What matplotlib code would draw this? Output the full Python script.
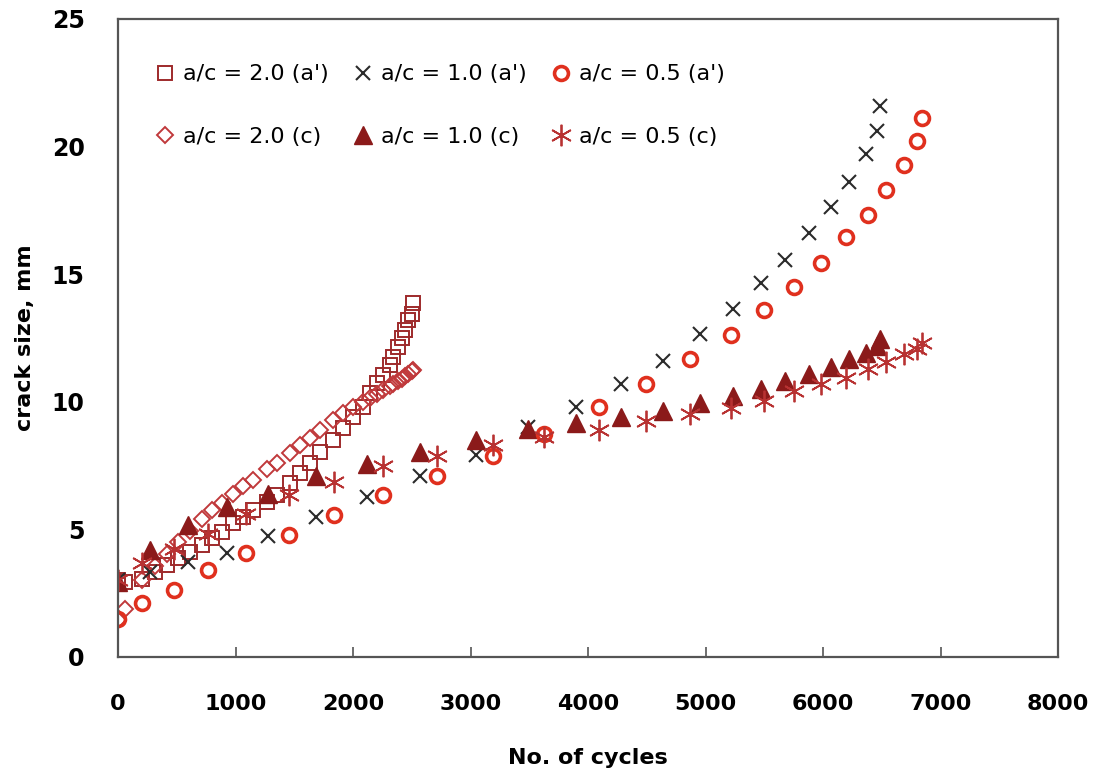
import matplotlib
matplotlib.use("Agg")
import matplotlib.pyplot as plt

# a/c = 2.0 : a' (squares) and c (diamonds) share the cycle counts
cyc_20 = [0, 60, 202, 315, 414, 513, 613, 712, 797, 882, 981, 1066, 1151, 1265,
          1350, 1464, 1549, 1634, 1719, 1832, 1917, 2002, 2087, 2145, 2201, 2258,
          2315, 2343, 2385, 2414, 2443, 2471, 2500, 2513]
a_20 = [3.0, 2.95, 3.05, 3.34, 3.61, 3.87, 4.13, 4.39, 4.65, 4.91, 5.24, 5.5, 5.76, 6.09,
        6.35, 6.81, 7.2, 7.59, 8.05, 8.5, 8.96, 9.42, 9.81, 10.33, 10.72, 11.05,
        11.44, 11.76, 12.16, 12.49, 12.81, 13.2, 13.46, 13.86]
c_20 = [1.45, 1.9, 3.0, 3.55, 4.05, 4.5, 4.95, 5.4, 5.75, 6.05, 6.4, 6.7, 6.95, 7.35,
        7.6, 8.0, 8.3, 8.6, 8.9, 9.3, 9.55, 9.8, 10.0, 10.15, 10.3, 10.45,
        10.6, 10.7, 10.8, 10.9, 11.0, 11.1, 11.2, 11.25]

# a/c = 1.0
cyc_10 = [0, 272, 598, 925, 1276, 1685, 2122, 2566, 3050, 3492, 3897, 4280, 4636, 4950,
          5237, 5475, 5680, 5880, 6064, 6222, 6362, 6458, 6489]
a_10 = [3.0, 3.34, 3.73, 4.08, 4.73, 5.48, 6.28, 7.08, 7.93, 9.0, 9.78, 10.69, 11.6, 12.64,
        13.62, 14.66, 15.57, 16.61, 17.62, 18.63, 19.7, 20.6, 21.6]
c_10 = [2.94, 4.21, 5.16, 5.87, 6.39, 7.11, 7.57, 8.05, 8.5, 8.93, 9.15, 9.39, 9.65, 9.94,
        10.23, 10.49, 10.82, 11.08, 11.37, 11.67, 11.93, 12.19, 12.45]

# a/c = 0.5
cyc_05 = [0, 206, 473, 769, 1086, 1452, 1840, 2256, 2717, 3190, 3629, 4095, 4493, 4869,
          5215, 5500, 5750, 5982, 6193, 6383, 6540, 6689, 6802, 6846]
a_05 = [1.47, 2.12, 2.64, 3.4, 4.07, 4.8, 5.55, 6.33, 7.1, 7.89, 8.74, 9.78, 10.69, 11.67,
        12.62, 13.58, 14.49, 15.44, 16.45, 17.33, 18.3, 19.28, 20.22, 21.13]
c_05 = [3.0, 3.68, 4.25, 4.83, 5.61, 6.33, 6.85, 7.5, 7.86, 8.32, 8.61, 8.89, 9.23, 9.52,
        9.75, 10.04, 10.43, 10.69, 10.95, 11.28, 11.54, 11.86, 12.05, 12.32]

x_ticks = [0, 1000, 2000, 3000, 4000, 5000, 6000, 7000, 8000]
y_ticks = [0, 5, 10, 15, 20, 25]

fig = plt.figure(figsize=(10.98, 7.82), dpi=100)
ax = fig.add_axes([118 / 1098, 1 - 657 / 782, 940 / 1098, 638 / 782])

sq, = ax.plot(cyc_20, a_20, ls="none", marker="s", ms=10.5, mfc="none",
              mec="#9E2A2B", mew=1.4, label="a/c = 2.0 (a')")
dm, = ax.plot(cyc_20, c_20, ls="none", marker="D", ms=8, mfc="none",
              mec="#C0393B", mew=1.4, label="a/c = 2.0 (c)")
xx, = ax.plot(cyc_10, a_10, ls="none", marker="x", ms=10, mec="#2B2B2B",
              mew=1.5, label="a/c = 1.0 (a')")
tr, = ax.plot(cyc_10, c_10, ls="none", marker="^", ms=13, mfc="#8B1A1A",
              mec="#8B1A1A", label="a/c = 1.0 (c)")
ci, = ax.plot(cyc_05, a_05, ls="none", marker="o", ms=10, mfc="none",
              mec="#E0301E", mew=2.6, label="a/c = 0.5 (a')")
st, = ax.plot(cyc_05, c_05, ls="none", marker=(6, 2, 0), ms=15.5, mec="#B83232",
              mew=1.3, label="a/c = 0.5 (c)")

ax.set_xlim(0, 8000)
ax.set_ylim(0, 25)
ax.set_xticks(x_ticks)
ax.set_yticks(y_ticks)
ax.tick_params(axis="x", direction="in", length=7, width=1.2, color="#555555",
               pad=27, labelsize=16)
ax.tick_params(axis="y", length=0, pad=24, labelsize=17)
for lab in ax.get_xticklabels() + ax.get_yticklabels():
    lab.set_fontweight("bold")
for sp in ax.spines.values():
    sp.set_color("#555555")
    sp.set_linewidth(1.6)

ax.set_xlabel("No. of cycles", fontsize=16, fontweight="bold", labelpad=24)
ax.set_ylabel("crack size, mm", fontsize=16, fontweight="bold", labelpad=12)

ax.legend([sq, dm, xx, tr, ci, st],
          [h.get_label() for h in [sq, dm, xx, tr, ci, st]],
          ncol=3, loc="upper left", bbox_to_anchor=(0.0383, 0.929),
          frameon=False, fontsize=16, numpoints=1, handlelength=1.0,
          handletextpad=0.3, columnspacing=1.05, labelspacing=1.9,
          borderaxespad=0, borderpad=0)

fig.savefig("out.png", dpi=100)
